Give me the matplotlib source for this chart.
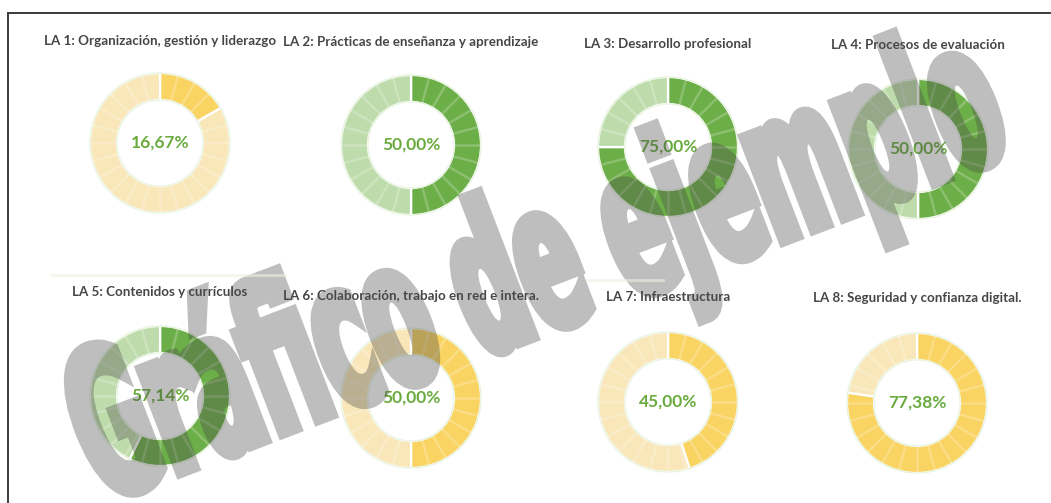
import numpy as np
import matplotlib
matplotlib.use("Agg")
import matplotlib.pyplot as plt
from matplotlib.patches import Circle, PathPatch
from matplotlib.textpath import TextPath
from matplotlib.font_manager import FontProperties
from matplotlib.transforms import Affine2D

# Scores per area
titles = [
    "LA 1: Organización, gestión y liderazgo",
    "LA 2: Prácticas de enseñanza y aprendizaje",
    "LA 3: Desarrollo profesional",
    "LA 4: Procesos de evaluación",
    "LA 5: Contenidos y currículos",
    "LA 6: Colaboración, trabajo en red e intera.",
    "LA 7: Infraestructura",
    "LA 8: Seguridad y confianza digital.",
]
values = [16.67, 50.00, 75.00, 50.00, 57.14, 50.00, 45.00, 77.38]
schemes = ["yellow", "green", "green", "green", "green", "yellow", "yellow", "yellow"]

# colour pairs: (achieved, remaining)
palette = {
    "green": ("#6cae47", "#bedcab"),
    "yellow": ("#f9d462", "#f9e7b9"),
}

W, H = 1051, 503
# donut centres and title heights in pixels (from top-left)
centres = [(160, 143), (411, 145), (668, 147), (918, 149),
           (160, 396), (411, 398), (668, 402), (917, 403)]
title_y = [41, 42, 44, 45, 292, 296, 297, 298]
R_PX = 70
RING = 0.385
N_SEG = 24

fig = plt.figure(figsize=(W / 100, H / 100), dpi=100)
fig.patch.set_facecolor("white")

for i, (title, v, sch) in enumerate(zip(titles, values, schemes)):
    cx, cy = centres[i]
    size = 170
    ax = fig.add_axes([(cx - size / 2) / W, 1 - (cy + size / 2) / H, size / W, size / H])
    full, pale = palette[sch]
    ax.pie([v, 100 - v], colors=[full, pale], startangle=90, counterclock=False,
           radius=1, wedgeprops=dict(width=RING, edgecolor="white", linewidth=1.6))
    lim = size / 2 / R_PX
    ax.set_xlim(-lim, lim)
    ax.set_ylim(-lim, lim)
    ax.axis("off")

    # thin segment dividers
    r_in = 1 - RING
    for k in range(N_SEG):
        a = np.deg2rad(90 - k * 360 / N_SEG)
        ax.plot([r_in * np.cos(a), np.cos(a)], [r_in * np.sin(a), np.sin(a)],
                color="white", alpha=0.22, lw=1.8, solid_capstyle="butt")

    # faint rim
    for r in (1.0, r_in):
        ax.add_patch(Circle((0, 0), r, fill=False, ec="#e6f3de", lw=0.9))

    label = f"{v:.2f}%".replace(".", ",")
    ax.text(0, 0, label, ha="center", va="center", fontsize=12.5, weight="bold",
            color="#6aab3f", family="Lato")

    fig.text(cx / W, 1 - title_y[i] / H, title, ha="center", va="center",
             fontsize=9.6, weight="bold", color="#464646", family="Lato")

# overlay in pixel coordinates: frame, faint separators, watermark
top = fig.add_axes([0, 0, 1, 1])
top.set_xlim(0, W)
top.set_ylim(0, H)
top.axis("off")
top.set_zorder(10)

top.plot([8, W], [H - 13, H - 13], color="#3a3a3a", lw=1.4)
top.plot([8, 8], [0, H - 13], color="#3a3a3a", lw=1.4)
top.plot([52, 285], [H - 275, H - 275], color="#e8f3e1", lw=2, alpha=0.6)
top.plot([587, 663], [H - 280, H - 280], color="#e8f3e1", lw=2, alpha=0.6)


def fade(img, dpi):
    # flatten fill + outline into one translucent layer
    img[..., 3] *= 0.36
    return img, 0, 0


# watermark text, stretched, thickened and rotated
tp = TextPath((0, 0), "Gráfico de ejemplo", size=100,
              prop=FontProperties(family="Liberation Sans Narrow", weight="bold"))
bb = tp.get_extents()
tr = (Affine2D()
      .translate(-(bb.x0 + bb.width / 2), -(bb.y0 + bb.height / 2))
      .scale(970 / bb.width, 208 / bb.height)
      .rotate_deg(21)
      .translate(538, H - 272))
wm = PathPatch(tr.transform_path(tp), facecolor="#4b4b4b", edgecolor="#4b4b4b",
               lw=7, joinstyle="miter")
wm.set_agg_filter(fade)
top.add_patch(wm)

fig.savefig("out.png", dpi=100, facecolor="white")
